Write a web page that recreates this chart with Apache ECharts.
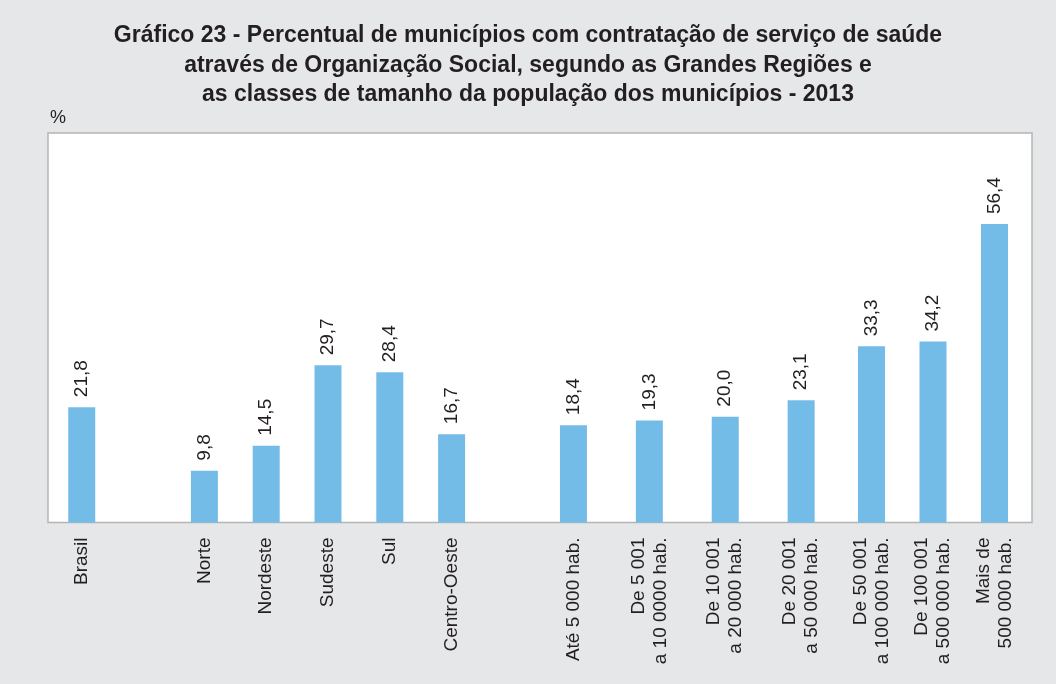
<!DOCTYPE html>
<html>
<head>
<meta charset="utf-8">
<script src="https://cdn.jsdelivr.net/npm/echarts@6/dist/echarts.min.js"></script>
<style>
html,body{margin:0;padding:0;background:#e6e7e8;}
#chart{width:1056px;height:684px;}
</style>
</head>
<body>
<div id="chart"></div>
<script>
var titleText = 'Gráfico 23 - Percentual de municípios com contratação de serviço de saúde\natravés de Organização Social, segundo as Grandes Regiões e\nas classes de tamanho da população dos municípios - 2013';
var unitLabel = '%';

var brasilCategories = ['Brasil'];
var brasilValues = [21.8];

var regionCategories = ['Norte', 'Nordeste', 'Sudeste', 'Sul', 'Centro-Oeste'];
var regionValues = [9.8, 14.5, 29.7, 28.4, 16.7];

var sizeCategories = [
  'Até 5 000 hab.',
  'De 5 001\na 10 0000 hab.',
  'De 10 001\na 20 000 hab.',
  'De 20 001\na 50 000 hab.',
  'De 50 001\na 100 000 hab.',
  'De 100 001\na 500 000 hab.',
  'Mais de\n500 000 hab.'
];
var sizeValues = [18.4, 19.3, 20.0, 23.1, 33.3, 34.2, 56.4];

var FONT = '"Liberation Sans", Arial, Helvetica, sans-serif';
var TEXT = '#231f20';
var BAR = '#74bce8';
var YMAX = 74;

function fmt(v) { return v.toFixed(1).replace('.', ','); }

var chart = echarts.init(document.getElementById('chart'));

// layout: the reference spaces the groups unevenly, so each group sits in its own grid
var groups = [
  { cats: brasilCategories, vals: brasilValues, left: 51, width: 61.5 },
  { cats: regionCategories, vals: regionValues, left: 173.5, width: 309 },
  { cats: sizeCategories.slice(0, 4), vals: sizeValues.slice(0, 4), left: 535.5, width: 303.6 },
  { cats: sizeCategories.slice(4), vals: sizeValues.slice(4), left: 840.75, width: 184.5 }
];

var grids = [], xAxes = [], yAxes = [], series = [];
groups.forEach(function (g, i) {
  grids.push({ left: g.left, width: g.width, top: 131, bottom: 161.5 });
  xAxes.push({
    type: 'category', gridIndex: i, data: g.cats,
    axisLine: { show: false }, axisTick: { show: false },
    axisLabel: {
      interval: 0, rotate: 90, margin: 15,
      fontFamily: FONT, fontSize: 19, color: TEXT, lineHeight: 22
    }
  });
  yAxes.push({
    type: 'value', gridIndex: i, min: 0, max: YMAX,
    show: false, splitLine: { show: false }
  });
  series.push({
    type: 'bar', xAxisIndex: i, yAxisIndex: i, data: g.vals,
    barWidth: 27, itemStyle: { color: BAR }, z: 5,
    label: {
      show: true, position: 'top', rotate: 90, distance: 10,
      align: 'left', verticalAlign: 'middle',
      fontFamily: FONT, fontSize: 19, color: TEXT,
      formatter: function (p) { return fmt(p.value); }
    }
  });
});

chart.setOption({
  backgroundColor: '#e6e7e8',
  animation: false,
  title: {
    text: titleText, left: 'center', top: 16,
    textStyle: { fontFamily: FONT, fontSize: 23, fontWeight: 'bold', color: TEXT, lineHeight: 29.5 }
  },
  graphic: [
    {
      type: 'rect', z: -10, silent: true,
      shape: { x: 48, y: 133, width: 984, height: 389.5 },
      style: { fill: '#ffffff', stroke: '#b5b5b5', lineWidth: 1.5 }
    },
    {
      type: 'text', left: 50, top: 109, silent: true,
      style: { text: unitLabel, font: '18px ' + FONT, fill: TEXT }
    }
  ],
  grid: grids,
  xAxis: xAxes,
  yAxis: yAxes,
  series: series
});
</script>
</body>
</html>
